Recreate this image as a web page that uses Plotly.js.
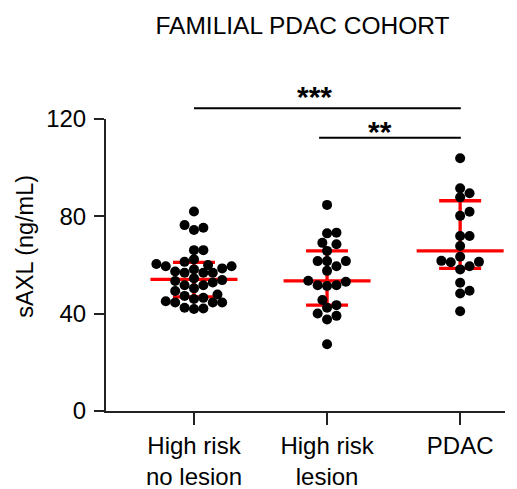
<!DOCTYPE html>
<html>
<head>
<meta charset="utf-8">
<script src="https://cdn.plot.ly/plotly-3.0.1.min.js"></script>
<style>html,body{margin:0;padding:0;background:#fff;}#chart{width:517px;height:489px;}</style>
</head>
<body>
<div id="chart"></div>
<script>
// ---- data ----
const categories = ["High risk<br>no lesion", "High risk<br>lesion", "PDAC"];
const noLesion = [82.0, 76.4, 74.4, 75.3, 66.1, 66.1, 62.3, 60.4, 59.5, 58.6, 58.2, 57.3, 56.8,
  59.5, 60.0, 61.3, 56.8, 56.8, 53.8, 54.5, 52.8, 51.7, 50.4, 51.7, 53.4, 47.3, 46.5, 46.0,
  47.9, 49.3, 45.1, 44.6, 44.6, 42.4, 44.6, 42.1, 41.9];
const lesion = [84.7, 73.0, 73.3, 69.1, 68.5, 65.8, 61.6, 61.6, 61.6, 59.5, 57.6, 53.5, 51.7,
  51.7, 53.1, 51.4, 45.6, 43.5, 42.4, 40.1, 39.1, 37.6, 27.4];
const pdac = [103.9, 91.5, 89.5, 87.8, 81.9, 80.2, 71.9, 71.9, 67.8, 63.4, 61.7, 61.3, 61.1,
  59.5, 58.2, 52.7, 49.4, 48.3, 41.0];
const medians = [54.1, 53.5, 65.8];
const q1 = [46.9, 43.5, 58.6];
const q3 = [61.1, 65.8, 86.4];
const sigPairs = [[0, 2], [1, 2]];
const sigLabels = ["***", "**"];
const yTicks = [0, 40, 80, 120];

// ---- layout constants ----
const W = 517, H = 489;
const M = {l: 106, r: 12, t: 119, b: 78};
const xr = [-0.661, 2.337];
const yr = [0, 120];
const plotW = W - M.l - M.r, plotH = H - M.t - M.b;
const pxX = plotW / (xr[1] - xr[0]);
const pxY = plotH / (yr[1] - yr[0]);
const FONT = "Liberation Sans, Arial, Helvetica, sans-serif";
const RED = "#ff0000";

// simple deterministic beeswarm (pixel space)
function swarm(vals) {
  const STEP = 4.7, DIAM = 9;
  const idx = vals.map((v, i) => i).sort((a, b) => vals[a] - vals[b]);
  const placed = [];
  const off = new Array(vals.length).fill(0);
  for (const i of idx) {
    const y = vals[i] * pxY;
    for (let k = 0; k < 400; k++) {
      const s = (k === 0 ? 0 : (k % 2 ? 1 : -1) * Math.ceil(k / 2)) * STEP;
      if (placed.every(p => Math.hypot(p.x - s, p.y - y) >= DIAM)) {
        placed.push({x: s, y: y});
        off[i] = s / pxX;
        break;
      }
    }
  }
  return off;
}

const groups = [noLesion, lesion, pdac];
const traces = [];

// median lines
const halfMed = 43.5 / pxX;
groups.forEach((g, i) => {
  traces.push({
    type: "scatter", mode: "lines",
    x: [i - halfMed, i + halfMed], y: [medians[i], medians[i]],
    line: {color: RED, width: 3.3}, hoverinfo: "skip", showlegend: false
  });
});
// IQR bars
traces.push({
  type: "scatter", mode: "markers",
  x: [0, 1, 2], y: medians,
  marker: {size: 1, opacity: 0},
  error_y: {
    type: "data", symmetric: false,
    array: q3.map((v, i) => v - medians[i]),
    arrayminus: q1.map((v, i) => medians[i] - v),
    color: RED, thickness: 3.3, width: 21
  },
  hoverinfo: "skip", showlegend: false
});
// dots
groups.forEach((g, i) => {
  const off = swarm(g);
  traces.push({
    type: "scatter", mode: "markers",
    x: g.map((v, j) => i + off[j]), y: g,
    marker: {color: "#000", size: 10, line: {width: 0}},
    cliponaxis: false, hoverinfo: "skip", showlegend: false
  });
});

// significance brackets (paper coords)
const xp = c => (c - xr[0]) / (xr[1] - xr[0]);
const ypPx = px => (H - M.b - px) / plotH; // px from top -> paper
const sigLineY = [108.3, 137.7];
const sigStart = [0, 0.94];
const sigTextX = [0.907, 1.397];
const sigTextY = [96.5, 131];
const shapes = [];
const annotations = [];
sigPairs.forEach((p, k) => {
  shapes.push({
    type: "line", xref: "paper", yref: "paper",
    x0: xp(sigStart[k]), x1: xp(p[1] + 0.005), y0: ypPx(sigLineY[k]), y1: ypPx(sigLineY[k]),
    line: {color: "#000", width: 2}
  });
  annotations.push({
    text: sigLabels[k], xref: "paper", yref: "paper",
    x: xp(sigTextX[k]), y: ypPx(sigTextY[k]), xanchor: "center", yanchor: "middle",
    showarrow: false, font: {family: FONT, size: 30, color: "#000", weight: "bold"}
  });
});
// y axis title
annotations.push({
  text: "sAXL (ng/mL)", xref: "paper", yref: "paper",
  x: (24.2 - M.l) / plotW, y: ypPx(246.5), xanchor: "center", yanchor: "middle",
  textangle: -90, showarrow: false, font: {family: FONT, size: 23.5, color: "#000"}
});

const layout = {
  width: W, height: H, autosize: false,
  margin: M, paper_bgcolor: "#fff", plot_bgcolor: "#fff",
  font: {family: FONT, color: "#000"},
  title: {
    text: "FAMILIAL PDAC COHORT", font: {family: FONT, size: 24.5, color: "#000"},
    xref: "container", yref: "container", x: 302.5 / W, xanchor: "center",
    y: 1 - 25 / H, yanchor: "middle"
  },
  xaxis: {
    range: xr, tickmode: "array", tickvals: [0, 1, 2], ticktext: categories,
    ticks: "outside", ticklen: 12, tickwidth: 2, tickcolor: "#222",
    showline: true, linewidth: 2, linecolor: "#222",
    showgrid: false, zeroline: false, fixedrange: true,
    tickfont: {family: FONT, size: 24, color: "#000"}
  },
  yaxis: {
    range: yr, tickmode: "array", tickvals: yTicks,
    ticks: "outside", ticklen: 10, tickwidth: 2, tickcolor: "#222",
    showline: true, linewidth: 2, linecolor: "#222",
    showgrid: false, zeroline: false, fixedrange: true,
    ticklabelstandoff: 3,
    tickfont: {family: FONT, size: 24, color: "#000"}
  },
  shapes: shapes,
  annotations: annotations,
  showlegend: false
};

Plotly.newPlot("chart", traces, layout, {displayModeBar: false, staticPlot: true});
</script>
</body>
</html>
